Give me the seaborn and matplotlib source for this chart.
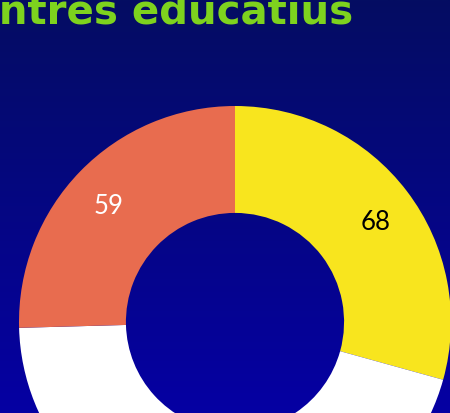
import numpy as np
import seaborn as sns
import matplotlib.pyplot as plt
from matplotlib.colors import LinearSegmentedColormap

# Dades del gràfic
categories = ['A', 'B', 'C']
values = [68, 105, 59]
labels = ['68', '', '59']
colors = ['#f8e51e', '#ffffff', '#e86c4f']
label_colors = ['black', 'black', 'white']
title = 'Centres educatius'

sns.set_style('white')

W, H = 450, 413
fig = plt.figure(figsize=(W / 100, H / 100), dpi=100)
ax = fig.add_axes([0, 0, 1, 1])

# fons en degradat
grad = np.linspace(0, 1, 256).reshape(-1, 1)
cmap = LinearSegmentedColormap.from_list('bg', ['#040d62', '#0600a3'])
ax.imshow(grad, cmap=cmap, extent=(0, W, 0, H), aspect='auto', origin='upper', zorder=0)

cx, cy, R = 235, H - 322, 216
wedges, texts = ax.pie(values, colors=colors, startangle=90, counterclock=False,
                       center=(cx, cy), radius=R,
                       wedgeprops=dict(width=R * 0.495, linewidth=0))
for w in wedges:
    w.set_zorder(2)

# etiquetes dins de cada sector
for w, lab, c in zip(wedges, labels, label_colors):
    ang = np.deg2rad((w.theta1 + w.theta2) / 2)
    ax.text(cx + 0.817 * R * np.cos(ang), cy + 0.817 * R * np.sin(ang) - 7.5, lab,
            ha='center', va='center', fontsize=18.5, color=c, family='Lato', zorder=3)

# títol (tallat a l'esquerra com a l'original)
ax.text(353, H - 24, title, ha='right', va='baseline', fontsize=29,
        fontweight='bold', color='#7ed21e', zorder=3)

ax.set_aspect('auto')
ax.set_xlim(0, W)
ax.set_ylim(0, H)
ax.axis('off')

fig.savefig('out.png', dpi=100)
